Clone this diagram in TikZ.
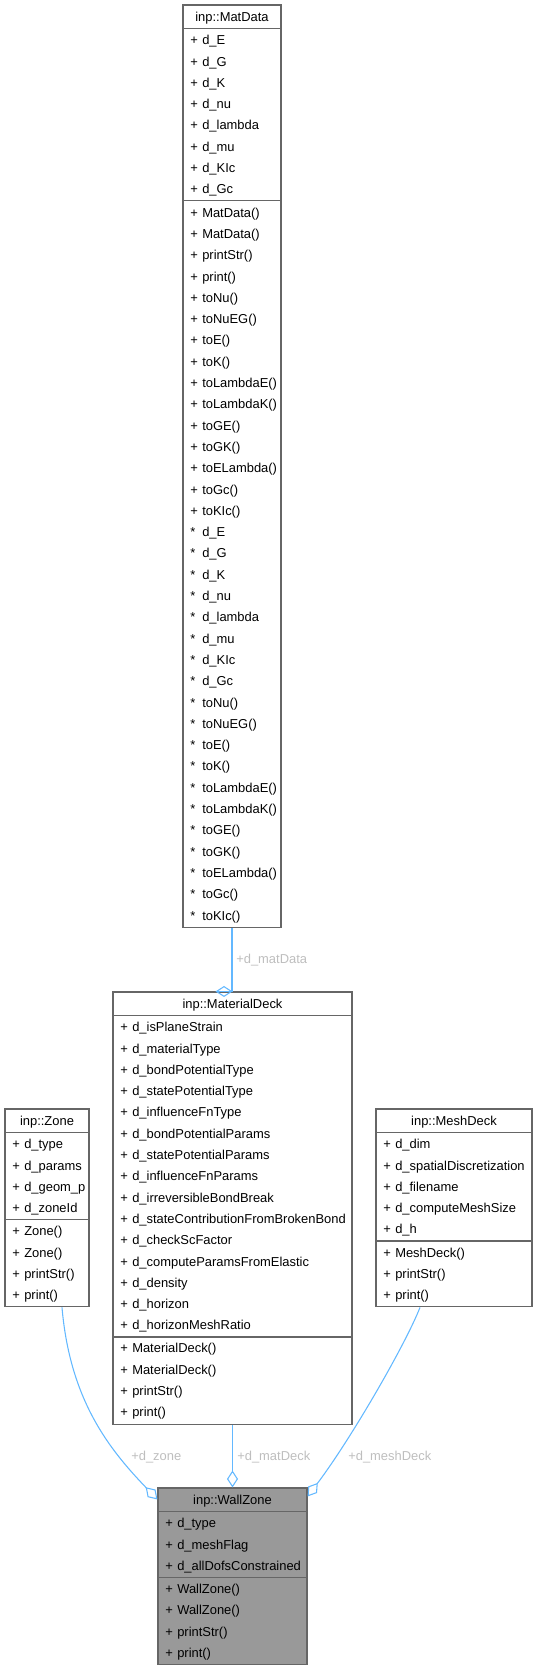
\documentclass[tikz,border=0pt]{standalone}
\usepackage{fontspec}
\setmainfont{Liberation Sans}
\usetikzlibrary{arrows.meta,fit,calc}
\definecolor{boxgray}{HTML}{666666}
\definecolor{edgeblue}{HTML}{63B8FF}
\definecolor{lblgray}{HTML}{BEBEBE}
\definecolor{curfill}{HTML}{999999}
\tikzset{
  boxsty/.style={draw=boxgray, line width=0.8pt, inner sep=0pt},
  boxline/.style={draw=boxgray, line width=0.8pt},
  titletxt/.style={anchor=base, inner sep=0pt, text=black},
  marktxt/.style={anchor=base west, inner sep=0pt, text=black},
  rowtxt/.style={anchor=base west, inner sep=0pt, text=black},
  edge/.style={draw=edgeblue, line width=0.8pt,
    {Diamond[open, length=12.75pt, width=8.25pt]}-},
  edgelbl/.style={anchor=base west, inner sep=0pt, text=lblgray},
}
% #1 name, #2 left, #3 right, #4 top, #5 n members, #6 n methods, #7 fill, #8 title
\newcommand\umlbox[8]{%
  \pgfmathsetmacro\ySepA{#4+23.5}%
  \pgfmathsetmacro\ySepB{\ySepA+#5*21.3+2}%
  \pgfmathsetmacro\yBot{\ySepB+#6*21.3+2}%
  \node[boxsty, fill=#7, fit={(#2,#4) (#3,\yBot)}] (#1) {};
  \draw[boxline] (#2,\ySepA) -- (#3,\ySepA) (#2,\ySepB) -- (#3,\ySepB);
  \node[titletxt] (#1-title) at ({(#2+#3)/2},{#4+11.75+4.6}) {#8};
}
% #1 prefix, #2 left, #3 separator y, #4 list of marker/text
\newcommand\umlrows[4]{%
  \foreach \m/\t [count=\i] in {#4} {
    \node[marktxt] (#1m\i) at ({#2+7},{#3+1+(\i-0.5)*21.3+4.6}) {\m};
    \node[rowtxt] (#1t\i) at ({#2+19},{#3+1+(\i-0.5)*21.3+4.6}) {\t};
  }%
}
\begin{document}
\begin{tikzpicture}[x=0.75pt, y=-0.75pt, font=\fontsize{9.7}{11.6}\selectfont]
\useasboundingbox (0,0) rectangle (537,1669);
% MatData
\umlbox{matdata}{183}{281}{5}{8}{34}{white}{inp::MatData}
\umlrows{mdA}{183}{28.5}{+/{d\_E},+/{d\_G},+/{d\_K},+/{d\_nu},+/{d\_lambda},+/{d\_mu},+/{d\_KIc},+/{d\_Gc}}
\umlrows{mdB}{183}{200.9}{+/{MatData()},+/{MatData()},+/{printStr()},+/{print()},+/{toNu()},+/{toNuEG()},+/{toE()},+/{toK()},+/{toLambdaE()},+/{toLambdaK()},+/{toGE()},+/{toGK()},+/{toELambda()},+/{toGc()},+/{toKIc()},*/{d\_E},*/{d\_G},*/{d\_K},*/{d\_nu},*/{d\_lambda},*/{d\_mu},*/{d\_KIc},*/{d\_Gc},*/{toNu()},*/{toNuEG()},*/{toE()},*/{toK()},*/{toLambdaE()},*/{toLambdaK()},*/{toGE()},*/{toGK()},*/{toELambda()},*/{toGc()},*/{toKIc()}}
% MaterialDeck
\umlbox{matdeck}{113}{352}{992}{15}{4}{white}{inp::MaterialDeck}
\umlrows{mkA}{113}{1015.5}{+/{d\_isPlaneStrain},+/{d\_materialType},+/{d\_bondPotentialType},+/{d\_statePotentialType},+/{d\_influenceFnType},+/{d\_bondPotentialParams},+/{d\_statePotentialParams},+/{d\_influenceFnParams},+/{d\_irreversibleBondBreak},+/{d\_stateContributionFromBrokenBond},+/{d\_checkScFactor},+/{d\_computeParamsFromElastic},+/{d\_density},+/{d\_horizon},+/{d\_horizonMeshRatio}}
\umlrows{mkB}{113}{1336.5}{+/{MaterialDeck()},+/{MaterialDeck()},+/{printStr()},+/{print()}}
% Zone
\umlbox{zone}{5}{89}{1109}{4}{4}{white}{inp::Zone}
\umlrows{znA}{5}{1132.5}{+/{d\_type},+/{d\_params},+/{d\_geom\_p},+/{d\_zoneId}}
\umlrows{znB}{5}{1219.7}{+/{Zone()},+/{Zone()},+/{printStr()},+/{print()}}
% MeshDeck
\umlbox{meshdeck}{376}{532}{1109}{5}{3}{white}{inp::MeshDeck}
\umlrows{msA}{376}{1132.5}{+/{d\_dim},+/{d\_spatialDiscretization},+/{d\_filename},+/{d\_computeMeshSize},+/{d\_h}}
\umlrows{msB}{376}{1241}{+/{MeshDeck()},+/{printStr()},+/{print()}}
% WallZone
\umlbox{wallzone}{158}{307}{1488}{3}{4}{curfill}{inp::WallZone}
\umlrows{wzA}{158}{1511.5}{+/{d\_type},+/{d\_meshFlag},+/{d\_allDofsConstrained}}
\umlrows{wzB}{158}{1577.4}{+/{WallZone()},+/{WallZone()},+/{printStr()},+/{print()}}
% connectors
\draw[edge] (matdeck.north) -- (matdeck.north -| matdata.south) -- (matdata.south);
\draw[edge] (wallzone.north) -- (wallzone.north |- matdeck.south);
\draw[edge] ($(wallzone.north west)+(0,12)$) .. controls +(-48,-50) and +(8,93) .. ($(zone.south)+(15,0)$);
\draw[edge] ($(wallzone.north east)+(0,9)$) .. controls +(43,-57) and +(-15,38) .. ($(meshdeck.south)+(-34,0)$);
% labels
\node[edgelbl] (lblmatdata) at (236,963.6) {+d\_matData};
\node[edgelbl] (lblmatdeck) at (237,1460.6) {+d\_matDeck};
\node[edgelbl] (lblzone) at (131,1460.6) {+d\_zone};
\node[edgelbl] (lblmesh) at (348,1460.6) {+d\_meshDeck};
\end{tikzpicture}
\end{document}
